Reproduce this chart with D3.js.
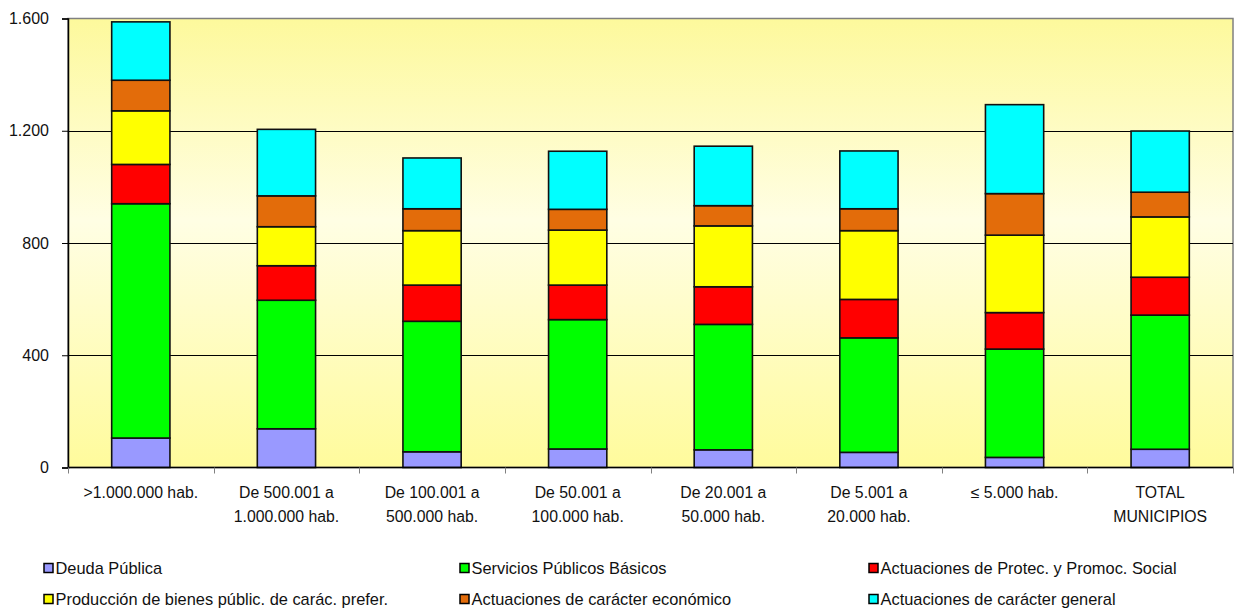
<!DOCTYPE html>
<html>
<head>
<meta charset="utf-8">
<script src="https://cdn.jsdelivr.net/npm/d3@7"></script>
<style>
  body { margin: 0; background: #fff; }
  svg { display: block; font-family: 'Liberation Sans', Arial, sans-serif; }
</style>
</head>
<body>
<script>
const categories = [
  ['>1.000.000 hab.'],
  ['De 500.001 a', '1.000.000 hab.'],
  ['De 100.001 a', '500.000 hab.'],
  ['De 50.001 a', '100.000 hab.'],
  ['De 20.001 a', '50.000 hab.'],
  ['De 5.001 a', '20.000 hab.'],
  ['\u2264 5.000 hab.'],
  ['TOTAL', 'MUNICIPIOS'],
];

const seriesNames = [
  'Deuda Pública',
  'Servicios Públicos Básicos',
  'Actuaciones de Protec. y Promoc. Social',
  'Producción de bienes públic. de carác. prefer.',
  'Actuaciones de carácter económico',
  'Actuaciones de carácter general',
];

const deuda = [105, 138, 56, 66, 63, 54, 36, 65];
const servicios = [835, 458, 465, 461, 447, 408, 386, 478];
const protec = [140, 123, 129, 123, 134, 137, 130, 135];
const produccion = [191, 139, 194, 196, 217, 245, 276, 215];
const economico = [109, 110, 78, 74, 72, 78, 148, 88];
const general = [208, 237, 181, 207, 212, 206, 317, 218];

const yTicks = [0, 400, 800, 1200, 1600];

const colors = ['#9999ff', '#00ff00', '#ff0000', '#ffff00', '#e36c0a', '#00ffff'];

const width = 1236;
const height = 610;
const plot = { left: 68, right: 1233, top: 18.5, bottom: 467.5 };

const series = [deuda, servicios, protec, produccion, economico, general];
const rows = categories.map((c, i) => {
  const row = { key: i };
  series.forEach((s, j) => (row['s' + j] = s[i]));
  return row;
});
const keys = series.map((_, j) => 's' + j);
const stacked = d3.stack().keys(keys)(rows);

const svg = d3.select('body').append('svg').attr('width', width).attr('height', height);

const x = d3
  .scaleBand()
  .domain(d3.range(categories.length))
  .range([plot.left, plot.right])
  .paddingInner(0.6)
  .paddingOuter(0.3);

const y = d3.scaleLinear().domain([0, 1600]).range([plot.bottom, plot.top]);

// background gradient
const grad = svg
  .append('defs')
  .append('linearGradient')
  .attr('id', 'bg')
  .attr('x1', 0)
  .attr('y1', 0)
  .attr('x2', 0)
  .attr('y2', 1);
grad.append('stop').attr('offset', '0%').attr('stop-color', '#fdf99c');
grad.append('stop').attr('offset', '45%').attr('stop-color', '#fffee4');
grad.append('stop').attr('offset', '100%').attr('stop-color', '#fffb9c');

svg
  .append('rect')
  .attr('x', plot.left)
  .attr('y', plot.top)
  .attr('width', plot.right - plot.left)
  .attr('height', plot.bottom - plot.top)
  .attr('fill', 'url(#bg)')
  .attr('stroke', '#808080')
  .attr('stroke-width', 1.5);

// gridlines
svg
  .append('g')
  .selectAll('line')
  .data(yTicks.filter(d => d > 0 && d < 1600))
  .enter()
  .append('line')
  .attr('x1', plot.left)
  .attr('x2', plot.right)
  .attr('y1', d => Math.round(y(d)) + 0.5)
  .attr('y2', d => Math.round(y(d)) + 0.5)
  .attr('stroke', '#000')
  .attr('stroke-width', 1);

// bars
svg
  .append('g')
  .selectAll('g')
  .data(stacked)
  .enter()
  .append('g')
  .attr('fill', (_, i) => colors[i])
  .selectAll('rect')
  .data(d => d)
  .enter()
  .append('rect')
  .attr('x', d => x(d.data.key))
  .attr('y', d => y(d[1]))
  .attr('width', x.bandwidth())
  .attr('height', d => y(d[0]) - y(d[1]))
  .attr('stroke', '#111')
  .attr('stroke-width', 1.6);

// y axis
const fmt = d3.formatLocale({ decimal: ',', thousands: '.', grouping: [3], currency: ['', ''] }).format(',');
const yAxis = svg
  .append('g')
  .attr('transform', `translate(${plot.left},0)`)
  .call(d3.axisLeft(y).tickValues(yTicks).tickFormat(fmt).tickSizeOuter(0).tickSize(6).tickPadding(13));
yAxis.select('.domain').attr('stroke', '#000').attr('stroke-width', 1.5);
yAxis.selectAll('.tick line').attr('stroke', '#000');
yAxis.selectAll('.tick text').attr('font-size', 16).attr('fill', '#111').attr('font-family', 'Liberation Sans, Arial, sans-serif');

// x axis line and boundary ticks
svg
  .append('line')
  .attr('x1', plot.left)
  .attr('x2', plot.right)
  .attr('y1', plot.bottom)
  .attr('y2', plot.bottom)
  .attr('stroke', '#000')
  .attr('stroke-width', 1.5);

const bounds = d3.range(categories.length + 1).map(i => plot.left + i * x.step());
svg
  .append('g')
  .selectAll('line')
  .data(bounds)
  .enter()
  .append('line')
  .attr('x1', d => Math.round(d) + 0.5)
  .attr('x2', d => Math.round(d) + 0.5)
  .attr('y1', plot.bottom)
  .attr('y2', plot.bottom + 6)
  .attr('stroke', '#808080')
  .attr('stroke-width', 1);

// category labels
const lab = svg
  .append('g')
  .selectAll('text')
  .data(categories)
  .enter()
  .append('text')
  .attr('x', (_, i) => x(i) + x.bandwidth() / 2)
  .attr('y', 498)
  .attr('text-anchor', 'middle')
  .attr('font-size', 15.8)
  .attr('fill', '#111');
lab
  .selectAll('tspan')
  .data(d => d)
  .enter()
  .append('tspan')
  .attr('x', function () {
    return this.parentNode.getAttribute('x');
  })
  .attr('dy', (_, i) => (i === 0 ? 0 : 24))
  .text(d => d);

// legend
const legendPos = [
  [43, 568], [459, 568], [868, 568],
  [43, 599], [459, 599], [868, 599],
];
const legend = svg
  .append('g')
  .selectAll('g')
  .data(seriesNames)
  .enter()
  .append('g')
  .attr('transform', (_, i) => `translate(${legendPos[i][0]},${legendPos[i][1]})`);
legend
  .append('rect')
  .attr('x', 1)
  .attr('y', -4.5)
  .attr('width', 9)
  .attr('height', 9)
  .attr('fill', (_, i) => colors[i])
  .attr('stroke', '#000')
  .attr('stroke-width', 1.5);
legend
  .append('text')
  .attr('x', 12.5)
  .attr('y', 5.5)
  .attr('font-size', 16.4)
  .attr('fill', '#111')
  .text(d => d);
</script>
</body>
</html>
